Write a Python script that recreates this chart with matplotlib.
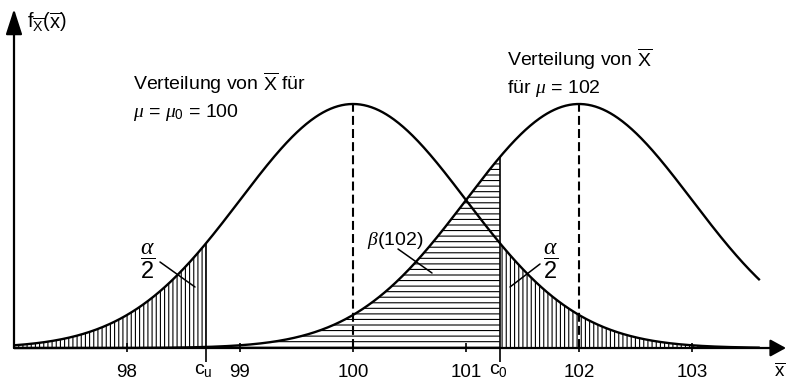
import numpy as np
import matplotlib
matplotlib.use("Agg")
import matplotlib.pyplot as plt

# ---- data ----
mu_values = [100.0, 102.0]          # means of the two sampling distributions
sigma = 1.0                         # standard deviation of X-bar
c_u, c_o = 98.7, 101.3              # critical values
tick_values = [98, 99, 100, 101, 102, 103]
tick_labels = ["98", "99", "100", "101", "102", "103"]
x_start, x_end = 97.0, 103.6        # drawn range of the curves

plt.rcParams["font.family"] = ["Liberation Sans", "DejaVu Sans"]
plt.rcParams["mathtext.fontset"] = "custom"
plt.rcParams["mathtext.rm"] = "Liberation Sans"
plt.rcParams["mathtext.sf"] = "Liberation Sans"
plt.rcParams["mathtext.it"] = "Liberation Serif:italic"
plt.rcParams["mathtext.bf"] = "Liberation Sans:bold"
plt.rcParams["hatch.linewidth"] = 0.8


def X(px):
    return 100 + (px - 353) / 113.0


def Y(py):
    return (348 - py) / 611.6


def pdf(x, m):
    return np.exp(-0.5 * ((x - m) / sigma) ** 2) / (sigma * np.sqrt(2 * np.pi))


fig = plt.figure(figsize=(7.86, 3.80), dpi=100)
ax = fig.add_axes([0, 0, 1, 1])
ax.set_xlim(X(0), X(786))
ax.set_ylim(Y(380), Y(0))
ax.axis("off")

x = np.linspace(x_start, x_end, 800)
f0 = pdf(x, mu_values[0])
f1 = pdf(x, mu_values[1])

# hatched regions
xl = np.linspace(x_start, c_u, 300)
ax.fill_between(xl, 0, pdf(xl, mu_values[0]), facecolor="none",
                edgecolor="black", hatch="||||", linewidth=0)
xr = np.linspace(c_o, x_end, 300)
ax.fill_between(xr, 0, pdf(xr, mu_values[0]), facecolor="none",
                edgecolor="black", hatch="||||", linewidth=0)
xb = np.linspace(c_u, c_o, 300)
ax.fill_between(xb, 0, pdf(xb, mu_values[1]), facecolor="none",
                edgecolor="black", hatch="---", linewidth=0)

# curves
ax.plot(x, f0, color="black", lw=1.7, solid_capstyle="butt")
ax.plot(x, f1, color="black", lw=1.7, solid_capstyle="butt")

# dashed lines at the means
for m in mu_values:
    ax.plot([m, m], [0, pdf(m, m)], color="black", lw=1.5,
            dashes=(4.3, 2.0))

# critical value lines
ax.vlines([c_u], Y(362), pdf(c_u, mu_values[0]), color="black", lw=1.2)
ax.vlines([c_o], Y(362), pdf(c_o, mu_values[1]), color="black", lw=1.2)

# axes with arrows
ax.annotate("", xy=(X(786), 0), xytext=(X(14), 0),
            arrowprops=dict(arrowstyle="-|>,head_length=0.95,head_width=0.52",
                            mutation_scale=10, lw=1.6, color="black",
                            shrinkA=0, shrinkB=0))
ax.annotate("", xy=(X(14), Y(9)), xytext=(X(14), 0),
            arrowprops=dict(arrowstyle="-|>,head_length=1.55,head_width=0.5",
                            mutation_scale=10, lw=1.6, color="black",
                            shrinkA=0, shrinkB=0))

# ticks
ax.vlines(tick_values, Y(352), Y(343), color="black", lw=1.2)
for t, lab in zip(tick_values, tick_labels):
    ax.text(t, Y(377), lab, ha="center", va="baseline", fontsize=13.5)

ax.text(X(203), Y(374), r"$\mathregular{c_u}$", ha="center", va="baseline",
        fontsize=14)
ax.text(X(498), Y(374), r"$\mathregular{c_0}$", ha="center", va="baseline",
        fontsize=14)
ax.text(X(785), Y(376), r"$\overline{\mathregular{x}}$", ha="right",
        va="baseline", fontsize=13.5)

# y label
ax.text(X(27), Y(28),
        r"$\mathregular{f}_{\overline{\mathregular{X}}}(\overline{\mathregular{x}})$",
        ha="left", va="baseline", fontsize=14.5)

# annotations
ax.text(X(133), Y(90), r"Verteilung von $\overline{\mathregular{X}}$ für",
        ha="left", va="baseline", fontsize=14)
ax.text(X(133), Y(117), r"$\mu$ = $\mu_0$ = 100",
        ha="left", va="baseline", fontsize=14)
ax.text(X(507), Y(66), r"Verteilung von $\overline{\mathregular{X}}$",
        ha="left", va="baseline", fontsize=14)
ax.text(X(507), Y(93), r"für $\mu$ = 102",
        ha="left", va="baseline", fontsize=14)

ax.text(X(148), Y(261), r"$\dfrac{\alpha}{2}$", ha="center", va="center",
        fontsize=17)
ax.text(X(551), Y(261), r"$\dfrac{\alpha}{2}$", ha="center", va="center",
        fontsize=17)
ax.text(X(367), Y(245), r"$\beta$(102)", ha="left", va="baseline",
        fontsize=14)

leader = dict(arrowstyle="-", lw=1.1, color="black", shrinkA=0, shrinkB=0)
ax.annotate("", xy=(X(195), Y(287)), xytext=(X(160), Y(262)), arrowprops=leader)
ax.annotate("", xy=(X(432), Y(273)), xytext=(X(398), Y(249)), arrowprops=leader)
ax.annotate("", xy=(X(510), Y(287)), xytext=(X(540), Y(264)), arrowprops=leader)

fig.savefig("out.png", dpi=100)
